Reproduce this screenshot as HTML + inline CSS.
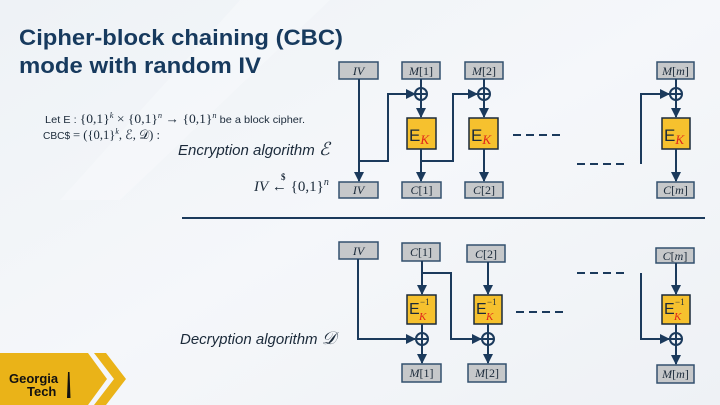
<!DOCTYPE html>
<html><head><meta charset="utf-8"><style>
html,body{margin:0;padding:0}
body{width:720px;height:405px;overflow:hidden;background:#f3f6f9}
svg{display:block}
</style></head><body>
<svg width="720" height="405" viewBox="0 0 720 405" xmlns="http://www.w3.org/2000/svg">
<defs>
<linearGradient id="bg" x1="0" y1="0" x2="1" y2="1">
<stop offset="0" stop-color="#eef2f6"/><stop offset="0.5" stop-color="#f5f7fa"/><stop offset="1" stop-color="#eef1f5"/>
</linearGradient>
<marker id="a" viewBox="0 0 10 10" refX="9" refY="5" markerWidth="5" markerHeight="5" orient="auto"><path d="M0,0 L10,5 L0,10 z" fill="#1b3a5c"/></marker>
</defs>
<rect width="720" height="405" fill="url(#bg)"/>
<polygon points="240,0 330,0 120,200 60,200" fill="#ffffff" opacity="0.25"/>

<g font-family="Liberation Sans, sans-serif" font-weight="bold" font-size="22.5" fill="#173a5e">
<text x="19" y="45" textLength="324" lengthAdjust="spacingAndGlyphs">Cipher-block chaining (CBC)</text>
<text x="19" y="73" textLength="242" lengthAdjust="spacingAndGlyphs">mode with random IV</text>
</g>
<g font-family="Liberation Sans, sans-serif" font-size="10.5" fill="#1b2a3a">
<text x="45" y="123" textLength="260" lengthAdjust="spacingAndGlyphs">Let  E : <tspan font-family="Liberation Serif, serif" font-size="13">{0,1}<tspan font-size="8" dy="-5" font-style="italic">k</tspan><tspan dy="5"> × {0,1}</tspan><tspan font-size="8" dy="-5" font-style="italic">n</tspan><tspan dy="5"> → {0,1}</tspan><tspan font-size="8" dy="-5" font-style="italic">n</tspan></tspan><tspan dy="5"> be a block cipher.</tspan></text>
<text x="43" y="139" textLength="117" lengthAdjust="spacingAndGlyphs">CBC$ <tspan font-family="Liberation Serif, serif" font-size="13">= ({0,1}<tspan font-size="8" dy="-5" font-style="italic">k</tspan><tspan dy="5">, ℰ, 𝒟) :</tspan></tspan></text>
</g>
<g font-family="Liberation Sans, sans-serif" font-style="italic" font-size="15" fill="#1b2a3a">
<text x="178" y="155">Encryption algorithm <tspan font-family="Liberation Serif, serif" font-size="18">ℰ</tspan></text>
<text x="180" y="344">Decryption algorithm <tspan font-family="Liberation Serif, serif" font-size="18">𝒟</tspan></text>
</g>
<text x="254" y="191" font-family="Liberation Serif, serif" font-size="15" fill="#1b2a3a"><tspan font-style="italic">IV</tspan> ← {0,1}<tspan font-size="10" dy="-6" font-style="italic">n</tspan></text>
<text x="281" y="180" font-family="Liberation Serif, serif" font-size="9" font-weight="bold" fill="#1b2a3a">$</text>

<line x1="182" y1="218" x2="705" y2="218" stroke="#1b3a5c" stroke-width="2"/>

<g fill="#c6c8ca" stroke="#33506e" stroke-width="1.5">
<rect x="339" y="62" width="39" height="17"/><rect x="402" y="62" width="38" height="17"/><rect x="465" y="62" width="38" height="17"/><rect x="657" y="62" width="37" height="17"/>
<rect x="339" y="182" width="39" height="16"/><rect x="402" y="182" width="39" height="16"/><rect x="465" y="182" width="38" height="16"/><rect x="657" y="182" width="37" height="16"/>
<rect x="339" y="242" width="39" height="17"/><rect x="402" y="243" width="38" height="18"/><rect x="467" y="245" width="38" height="17"/><rect x="656" y="248" width="38" height="15"/>
<rect x="402" y="364" width="39" height="18"/><rect x="468" y="364" width="38" height="18"/><rect x="657" y="365" width="37" height="18"/>
</g>
<g font-family="Liberation Serif, serif" font-size="12" fill="#1b2a3a" text-anchor="middle">
<text x="358.5" y="75" font-style="italic">IV</text><text x="421" y="75"><tspan font-style="italic">M</tspan>[1]</text><text x="484" y="75"><tspan font-style="italic">M</tspan>[2]</text><text x="675.5" y="75"><tspan font-style="italic">M</tspan>[<tspan font-style="italic">m</tspan>]</text>
<text x="358.5" y="194" font-style="italic">IV</text><text x="421.5" y="194"><tspan font-style="italic">C</tspan>[1]</text><text x="484" y="194"><tspan font-style="italic">C</tspan>[2]</text><text x="675.5" y="194"><tspan font-style="italic">C</tspan>[<tspan font-style="italic">m</tspan>]</text>
<text x="358.5" y="255" font-style="italic">IV</text><text x="421" y="256"><tspan font-style="italic">C</tspan>[1]</text><text x="486" y="258"><tspan font-style="italic">C</tspan>[2]</text><text x="675" y="260"><tspan font-style="italic">C</tspan>[<tspan font-style="italic">m</tspan>]</text>
<text x="421.5" y="377"><tspan font-style="italic">M</tspan>[1]</text><text x="487" y="377"><tspan font-style="italic">M</tspan>[2]</text><text x="675.5" y="378"><tspan font-style="italic">M</tspan>[<tspan font-style="italic">m</tspan>]</text>
</g>

<g fill="#f6c12e" stroke="#1b2a3a" stroke-width="1.5">
<rect x="407" y="118" width="29" height="31"/><rect x="469" y="118" width="29" height="31"/><rect x="662" y="118" width="28" height="31"/>
<rect x="407" y="295" width="29" height="29"/><rect x="474" y="295" width="28" height="29"/><rect x="662" y="295" width="28" height="29"/>
</g>
<g font-family="Liberation Sans, sans-serif" font-size="17" fill="#1b2a3a">
<text x="409" y="141">E<tspan font-family="Liberation Serif, serif" font-style="italic" font-size="13" fill="#e0261b" dy="3">K</tspan></text>
<text x="471" y="141">E<tspan font-family="Liberation Serif, serif" font-style="italic" font-size="13" fill="#e0261b" dy="3">K</tspan></text>
<text x="664" y="141">E<tspan font-family="Liberation Serif, serif" font-style="italic" font-size="13" fill="#e0261b" dy="3">K</tspan></text>
</g>
<g font-family="Liberation Sans, sans-serif" font-size="16" fill="#1b2a3a">
<text x="409" y="314">E</text><text x="476" y="314">E</text><text x="664" y="314">E</text>
</g>
<g font-family="Liberation Serif, serif" font-size="9" fill="#1b2a3a"><text x="420" y="305">−1</text><text x="487" y="305">−1</text><text x="675" y="305">−1</text></g>
<g font-family="Liberation Serif, serif" font-style="italic" font-size="11" fill="#e0261b"><text x="419" y="320">K</text><text x="486" y="320">K</text><text x="674" y="320">K</text></g>

<g fill="none" stroke="#1b3a5c" stroke-width="2">
<polyline points="359,79 359,181" marker-end="url(#a)"/>
<polyline points="359,161 388,161 388,94 415,94" marker-end="url(#a)"/>
<line x1="421" y1="79" x2="421" y2="88"/>
<line x1="421" y1="100" x2="421" y2="117" marker-end="url(#a)"/>
<line x1="421" y1="149" x2="421" y2="181" marker-end="url(#a)"/>
<polyline points="421,161 453,161 453,94 477,94" marker-end="url(#a)"/>
<line x1="484" y1="79" x2="484" y2="88"/>
<line x1="484" y1="100" x2="484" y2="117" marker-end="url(#a)"/>
<line x1="484" y1="149" x2="484" y2="181" marker-end="url(#a)"/>
<polyline points="641,164 641,94 669,94" marker-end="url(#a)"/>
<line x1="676" y1="79" x2="676" y2="88"/>
<line x1="676" y1="100" x2="676" y2="117" marker-end="url(#a)"/>
<line x1="676" y1="149" x2="676" y2="181" marker-end="url(#a)"/>
<line x1="513" y1="135" x2="563" y2="135" stroke-dasharray="8,5"/>
<line x1="577" y1="164" x2="627" y2="164" stroke-dasharray="8,5"/>
<circle cx="421" cy="94" r="6"/><line x1="415" y1="94" x2="427" y2="94"/>
<circle cx="484" cy="94" r="6"/><line x1="478" y1="94" x2="490" y2="94"/>
<circle cx="676" cy="94" r="6"/><line x1="670" y1="94" x2="682" y2="94"/>
<polyline points="358,259 358,339 415,339" marker-end="url(#a)"/>
<line x1="422" y1="261" x2="422" y2="294" marker-end="url(#a)"/>
<polyline points="422,273 451,273 451,339 481,339" marker-end="url(#a)"/>
<line x1="422" y1="324" x2="422" y2="333"/>
<line x1="422" y1="345" x2="422" y2="363" marker-end="url(#a)"/>
<line x1="488" y1="262" x2="488" y2="294" marker-end="url(#a)"/>
<line x1="488" y1="324" x2="488" y2="333"/>
<line x1="488" y1="345" x2="488" y2="363" marker-end="url(#a)"/>
<polyline points="641,273 641,339 669,339" marker-end="url(#a)"/>
<line x1="676" y1="263" x2="676" y2="294" marker-end="url(#a)"/>
<line x1="676" y1="324" x2="676" y2="333"/>
<line x1="676" y1="345" x2="676" y2="364" marker-end="url(#a)"/>
<line x1="516" y1="312" x2="566" y2="312" stroke-dasharray="8,5"/>
<line x1="577" y1="273" x2="627" y2="273" stroke-dasharray="8,5"/>
<circle cx="422" cy="339" r="6"/><line x1="416" y1="339" x2="428" y2="339"/><line x1="422" y1="333" x2="422" y2="345"/>
<circle cx="488" cy="339" r="6"/><line x1="482" y1="339" x2="494" y2="339"/><line x1="488" y1="333" x2="488" y2="345"/>
<circle cx="676" cy="339" r="6"/><line x1="670" y1="339" x2="682" y2="339"/><line x1="676" y1="333" x2="676" y2="345"/>
</g>
<g stroke="#1b3a5c" stroke-width="2"><line x1="421" y1="88" x2="421" y2="100"/><line x1="484" y1="88" x2="484" y2="100"/><line x1="676" y1="88" x2="676" y2="100"/></g>

<polygon points="0,353 88,353 107,379 88,405 0,405" fill="#eab318"/>
<polygon points="94,353 106,353 126,379 106,405 94,405 114,379" fill="#eab318"/>
<text x="9" y="383" font-family="Liberation Sans, sans-serif" font-weight="bold" font-size="13" fill="#111">Georgia</text>
<text x="27" y="396" font-family="Liberation Sans, sans-serif" font-weight="bold" font-size="13" fill="#111">Tech</text>
<polygon points="68,372 69.5,372 70.5,398 67,398" fill="#111"/>
</svg>
</body></html>
